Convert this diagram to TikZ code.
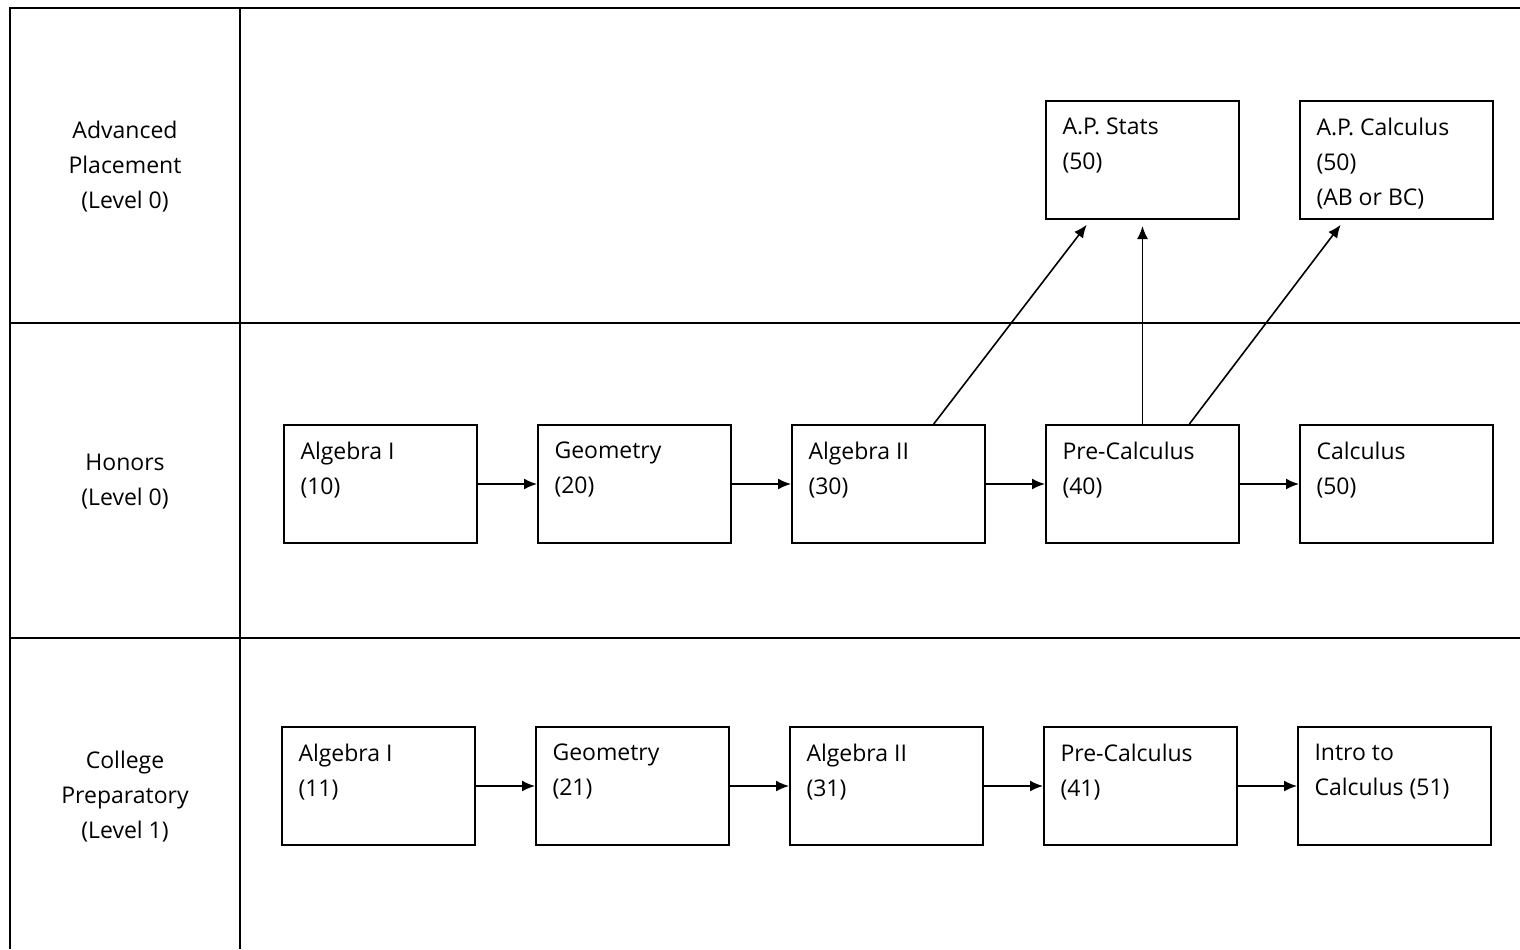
\documentclass[tikz,border=0pt]{standalone}
\usepackage{fontspec}
\setmainfont{Open Sans}
\usetikzlibrary{arrows.meta,positioning}
\tikzset{%
  course/.style={rectangle,draw=black,line width=1pt,minimum width=96.5pt,minimum height=59pt,inner sep=0pt},
  level/.style={align=center},
  grid/.style={line width=1pt},
  link/.style={-{Latex[length=6.5pt,width=5.5pt]},line width=0.8pt}%
}
\newcommand{\crs}[1]{\parbox[c][42pt][t]{80pt}{#1}}

\begin{document}
\begin{tikzpicture}[x=0.5pt,y=-0.5pt,node distance=29.5pt,font=\fontsize{11.5}{17.5}\selectfont]
  \useasboundingbox (0,0) rectangle (1520,949);
  % table
  \draw[grid] (1520,8) -- (10,8) -- (10,949);
  \draw[grid] (240,8) -- (240,949);
  \draw[grid] (10,323) -- (1520,323);
  \draw[grid] (10,638) -- (1520,638);

  \node (lvl_ap) [level] at (125,167) {Advanced\\Placement\\(Level 0)};
  \node (lvl_h) [level] at (125,482) {Honors\\(Level 0)};
  \node (lvl_cp) [level] at (125,797) {College\\Preparatory\\(Level 1)};

  % honors track
  \node (alg1_h) [course] at (380.5,484) {\crs{Algebra I\\(10)}};
  \node (geo_h) [course,right=of alg1_h] {\crs{Geometry\\(20)}};
  \node (alg2_h) [course,right=of geo_h] {\crs{Algebra II\\(30)}};
  \node (pre_h) [course,right=of alg2_h] {\crs{Pre-Calculus\\(40)}};
  \node (calc_h) [course,right=of pre_h] {\crs{Calculus\\(50)}};

  % AP
  \node (stats) [course,above=102pt of pre_h] {\crs{A.P. Stats\\(50)}};
  \node (apcalc) [course,above=102pt of calc_h] {\crs{A.P. Calculus\\(50)\\(AB or BC)}};

  % college prep track
  \node (alg1_cp) [course] at (378.5,786) {\crs{Algebra I\\(11)}};
  \node (geo_cp) [course,right=of alg1_cp] {\crs{Geometry\\(21)}};
  \node (alg2_cp) [course,right=of geo_cp] {\crs{Algebra II\\(31)}};
  \node (pre_cp) [course,right=of alg2_cp] {\crs{Pre-Calculus\\(41)}};
  \node (intro_cp) [course,right=of pre_cp] {\crs{Intro to\\Calculus (51)}};

  \draw[link] (alg1_h) -- (geo_h);
  \draw[link] (geo_h) -- (alg2_h);
  \draw[link] (alg2_h) -- (pre_h);
  \draw[link] (pre_h) -- (calc_h);
  \draw[link] (alg1_cp) -- (geo_cp);
  \draw[link] (geo_cp) -- (alg2_cp);
  \draw[link] (alg2_cp) -- (pre_cp);
  \draw[link] (pre_cp) -- (intro_cp);

  \draw[link,shorten >=3pt] (alg2_h.53) -- (stats.229);
  \draw[link,shorten >=3pt] (pre_h.north) -- (stats.south);
  \draw[link,shorten >=3pt] (pre_h.52) -- (apcalc.229);
\end{tikzpicture}
\end{document}
